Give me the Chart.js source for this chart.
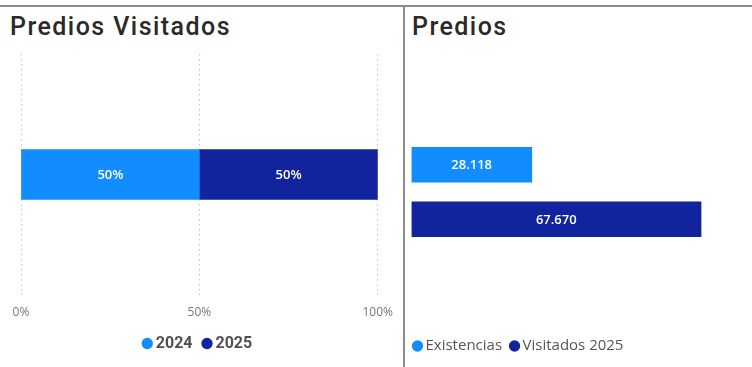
<!DOCTYPE html>
<html>
<head>
<meta charset="utf-8">
<script src="https://cdn.jsdelivr.net/npm/chart.js@4.4.1/dist/chart.umd.min.js"></script>
<style>
  html, body { margin: 0; padding: 0; background: #fff; overflow: hidden; }
  body { width: 752px; height: 367px; position: relative; }
  .rule-top { position: absolute; left: 0; top: 5px; width: 752px; height: 2px; background: #8c8c8c; }
  .rule-mid { position: absolute; left: 403px; top: 5px; width: 2px; height: 362px; background: #8c8c8c; }
  .title { position: absolute; top: 12px; font: 500 25px Roboto, sans-serif; color: #2b2a29; letter-spacing: 1.45px; white-space: nowrap; }
  .box { position: absolute; top: 45px; height: 322px; }
</style>
</head>
<body>
<div class="rule-top"></div>
<div class="rule-mid"></div>
<div class="title" style="left:10px">Predios Visitados</div>
<div class="title" style="left:412px">Predios</div>
<div class="box" style="left:0;width:403px"><canvas id="visitChart"></canvas></div>
<div class="box" style="left:405px;width:347px"><canvas id="stockChart"></canvas></div>
<script>
// share of visited plots per year (100% stacked)
const visitCategory = ['Predios'];
const visitYears = ['2024', '2025'];
const visitShare = [50, 50];
const shareTicks = [0, 50, 100];

// plot counts
const stockLabels = ['Existencias', 'Visitados 2025'];
const stockValues = [28118, 67670];

const palette = ['#118DFF', '#12239E'];

function thousands(v){
  return String(v).replace(/\B(?=(\d{3})+(?!\d))/g, '.');
}

// writes each bar's value in the middle of the bar
function barText(format){
  return {
    id: 'barText',
    afterDatasetsDraw(chart){
      const ctx = chart.ctx;
      ctx.save();
      ctx.fillStyle = '#ffffff';
      ctx.font = '600 13px "Open Sans", sans-serif';
      ctx.textAlign = 'center';
      ctx.textBaseline = 'middle';
      chart.data.datasets.forEach((ds, i) => {
        chart.getDatasetMeta(i).data.forEach((bar, j) => {
          const v = ds.data[j];
          if (v == null) return;
          const p = bar.getCenterPoint();
          ctx.fillText(format(v), p.x, p.y + 1);
        });
      });
      ctx.restore();
    }
  };
}

new Chart(document.getElementById('visitChart'), {
  type: 'bar',
  data: {
    labels: visitCategory,
    datasets: visitYears.map((y, i) => ({
      label: y,
      data: [visitShare[i]],
      backgroundColor: palette[i],
      barThickness: 50
    }))
  },
  options: {
    indexAxis: 'y',
    responsive: true,
    maintainAspectRatio: false,
    animation: false,
    layout: { padding: { top: 9, left: 21, right: 25, bottom: 5.5 } },
    scales: {
      x: {
        stacked: true, min: 0, max: 100,
        afterBuildTicks: s => { s.ticks = shareTicks.map(v => ({ value: v })); },
        afterFit: s => { s.height = 26.5; },
        grid: { color: '#c4c4c4', drawTicks: false },
        border: { display: false, dash: [1.5, 3.5] },
        ticks: { padding: 10, maxRotation: 0, color: '#777', font: { family: 'Open Sans', size: 12 }, callback: v => v + '%' }
      },
      y: { stacked: true, display: false }
    },
    plugins: {
      legend: {
        position: 'bottom',
        labels: { usePointStyle: true, pointStyle: 'circle', boxWidth: 1, boxHeight: 8, padding: 14, color: '#505050', font: { family: 'Roboto', size: 16, weight: 'bold' } }
      },
      tooltip: { enabled: false }
    }
  },
  plugins: [barText(v => v + '%')]
});

new Chart(document.getElementById('stockChart'), {
  type: 'bar',
  data: {
    labels: stockLabels,
    datasets: stockLabels.map((name, i) => ({
      label: name,
      data: stockLabels.map((_, j) => j === i ? stockValues[i] : null),
      backgroundColor: palette[i],
      barThickness: 35
    }))
  },
  options: {
    indexAxis: 'y',
    responsive: true,
    maintainAspectRatio: false,
    animation: false,
    layout: { padding: { top: 92.5, left: 0, right: 19.6, bottom: 3.5 } },
    scales: {
      x: {
        min: 0, max: 75000,
        afterFit: s => { s.height = 80; },
        grid: { display: false }, border: { display: false }, ticks: { display: false }
      },
      y: {
        stacked: true,
        afterFit: s => { s.width = 6.5; },
        grid: { display: false }, border: { display: false }, ticks: { display: false }
      }
    },
    plugins: {
      legend: {
        position: 'bottom', align: 'start',
        labels: { usePointStyle: true, pointStyle: 'circle', boxWidth: 1, boxHeight: 8, padding: 12, color: '#555', font: { family: 'Open Sans', size: 15 } }
      },
      tooltip: { enabled: false }
    }
  },
  plugins: [barText(thousands)]
});
</script>
</body>
</html>
